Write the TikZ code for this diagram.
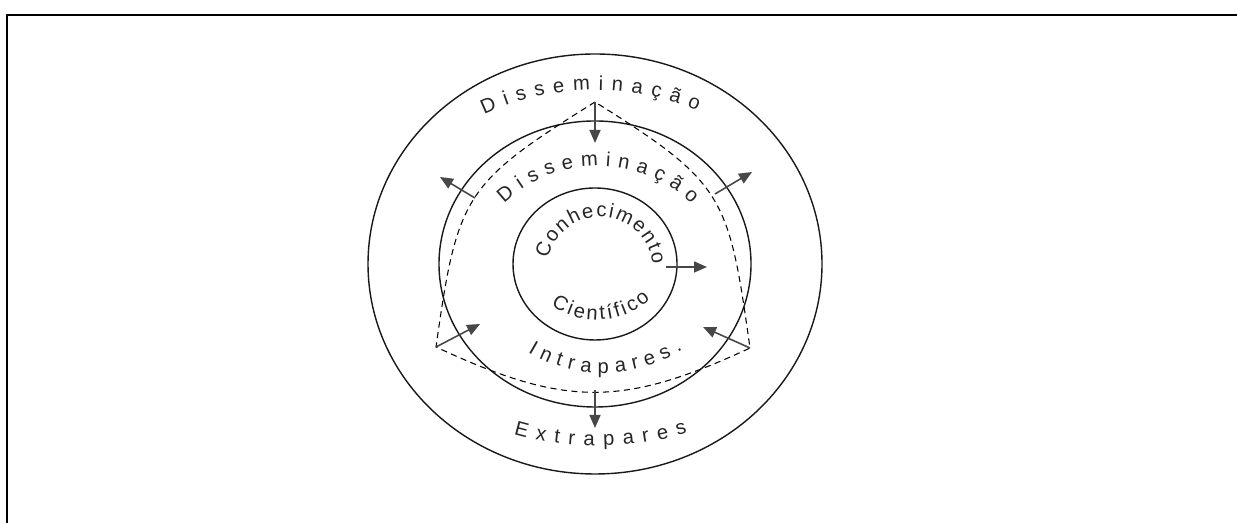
\documentclass[tikz,border=0pt]{standalone}
\usepackage{fontspec}
\setmainfont{Liberation Sans}
\usetikzlibrary{arrows.meta,decorations.text}

\newcommand{\ringfont}{\fontsize{11.5}{13}\selectfont\color{black!85}}

\begin{document}
\begin{tikzpicture}[
  x=0.02cm, y=0.02cm,
  >=Latex,
  ring/.style={line width=0.8pt, draw=black!90},
  hull/.style={line width=0.6pt, dash pattern=on 3.5pt off 2.5pt},
  push/.style={line width=0.9pt, draw=black!72,
               -{Triangle[length=2.6mm, width=2.2mm]}},
  arctext/.style={decorate, decoration={text along path,
                  text align={fit to path}, text={|\ringfont|#1}}},
]
  \useasboundingbox (0,0) rectangle (1237,523);

  % Frame (open to the right and bottom)
  \draw[line width=1.1pt] (7,0) -- (7,508) -- (1237,508);

  % Rings
  \coordinate (c) at (595,259);
  \draw[ring] (c) ellipse [x radius=227, y radius=210];
  \draw[ring] (c) ellipse [x radius=156, y radius=143];
  \draw[ring] (c) ellipse [x radius=82, y radius=76];

  % Dashed hull
  \coordinate (apex) at (595,421);
  \coordinate (hl) at (436,176);
  \coordinate (hr) at (750,175);
  \draw[hull] (apex) to[out=212, in=82, looseness=1.35] (hl)
    to[out=-25, in=205, looseness=1.15] (hr)
    to[out=98, in=-32, looseness=1.35] (apex);

  % Arrows
  \coordinate (topin) at (595,380);
  \coordinate (ulfrom) at (475,325);
  \coordinate (ulto) at (440,346);
  \coordinate (urfrom) at (715,329);
  \coordinate (urto) at (752,351);
  \coordinate (corefrom) at (666,256);
  \coordinate (coreto) at (707,256);
  \coordinate (llto) at (480,199);
  \coordinate (lrto) at (703,196);
  \coordinate (botfrom) at (595,133);
  \coordinate (botto) at (595,95);
  \draw[push] (apex) -- (topin);
  \draw[push] (ulfrom) -- (ulto);
  \draw[push] (urfrom) -- (urto);
  \draw[push] (corefrom) -- (coreto);
  \draw[push] (hl) -- (llto);
  \draw[push] (hr) -- (lrto);
  \draw[push] (botfrom) -- (botto);

  % Ring labels
  \path[arctext=Disseminação] (595,171) ++(115:262)
    arc[start angle=115, end angle=67, radius=262];
  \path[arctext=Disseminação] (598,222) ++(134:135)
    arc[start angle=134, end angle=46, radius=135];
  \path[arctext=Conhecimento] (600,253) ++(168:53)
    arc[start angle=168, end angle=6, radius=53];
  \path[arctext=Científico] (597,281) ++(234:78)
    arc[start angle=234, end angle=313, radius=78];
  \path[arctext=Intrapares.] (603,296) ++(239:146)
    arc[start angle=239, end angle=303, radius=146];
  \path[arctext=Extrapares] (598,383) ++(254:306)
    arc[start angle=254, end angle=287, radius=306];
\end{tikzpicture}
\end{document}
